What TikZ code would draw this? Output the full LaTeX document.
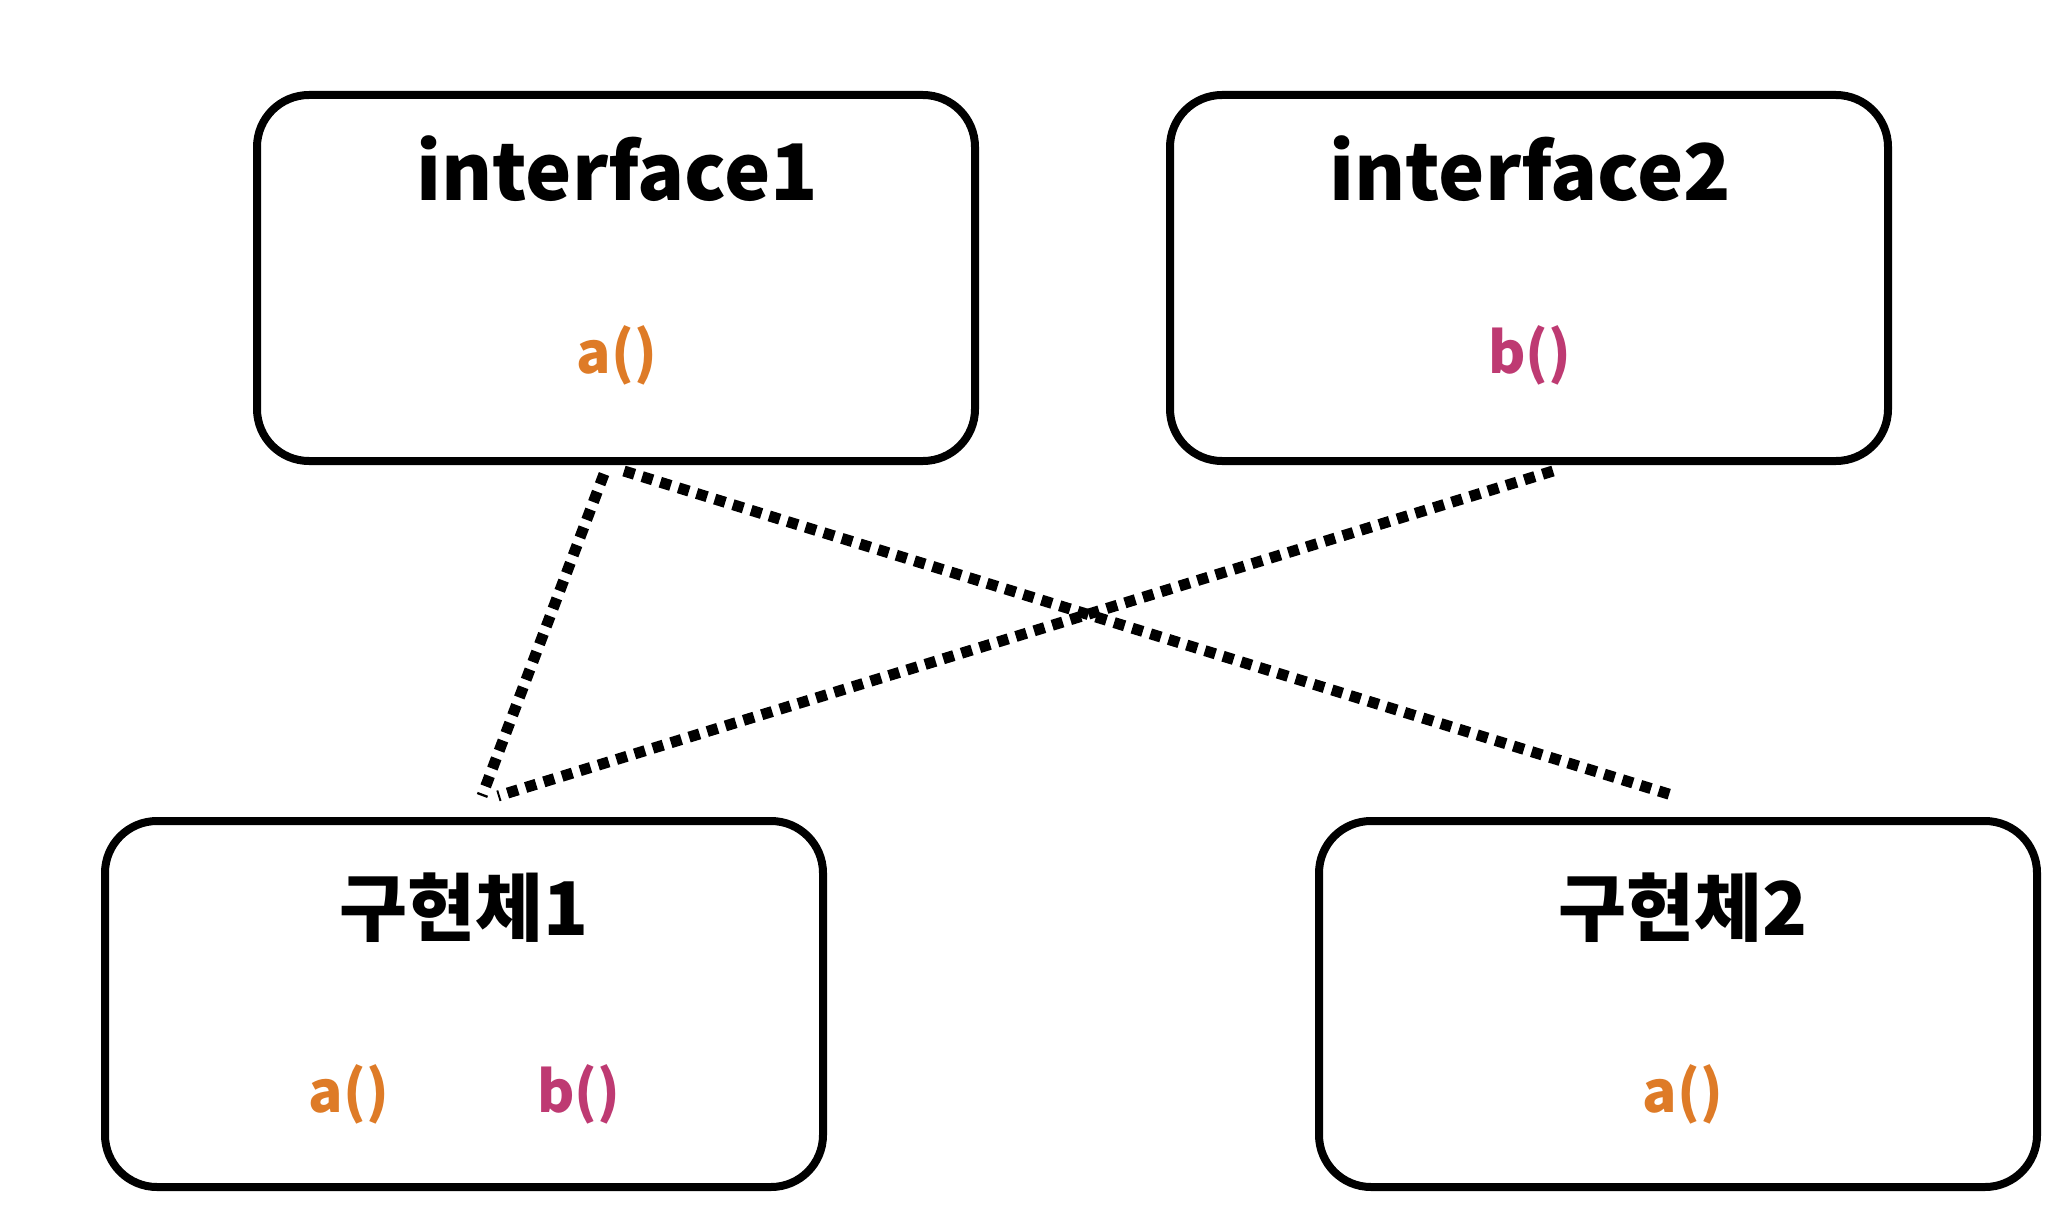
\documentclass[tikz,border=0pt]{standalone}
\usepackage{fontspec}
\setmainfont{Noto Sans CJK KR}
\definecolor{morange}{HTML}{DE7B27}
\definecolor{mpink}{HTML}{BE3A72}
\tikzset{
  box/.style={draw=black, line width=4pt, rounded corners=26pt,
    minimum width=359pt, minimum height=183pt, inner sep=0pt},
  title/.style={anchor=base, font=\fontsize{39}{46}\selectfont\bfseries},
  krtitle/.style={anchor=base, font=\fontsize{37}{44}\selectfont\bfseries},
  meth/.style={anchor=base, font=\fontsize{28.5}{34}\selectfont\bfseries},
  link/.style={draw=black, line width=5.5pt, dash pattern=on 5.5pt off 4pt}
}
\begin{document}
\begin{tikzpicture}[x=0.5pt,y=-0.5pt]
\useasboundingbox (0,0) rectangle (2070,1220);
% boxes
\node[box] (i1) at (616,278) {};
\node[box] (i2) at (1529,278) {};
\node[box] (c1) at (464,1004) {};
\node[box] (c2) at (1678,1004) {};
% titles
\node[title] (t1) at (617,200) {interface1};
\node[title] (t2) at (1530,200) {interface2};
\node[krtitle] (t3) at (464,935) {구현체1};
\node[krtitle] (t4) at (1683,935) {구현체2};
% methods
\node[meth, text=morange] (m1) at (617,373) {a()};
\node[meth, text=mpink] (m2) at (1530,373) {b()};
\node[meth, text=morange] (m3) at (349,1112) {a()};
\node[meth, text=mpink] (m4) at (579,1112) {b()};
\node[meth, text=morange] (m5) at (1683,1112) {a()};
% connector ends
\coordinate (s1) at (604,474);
\coordinate (s2) at (624,471);
\coordinate (s3) at (1553,471);
\coordinate (e1) at (482,796);
\coordinate (e2) at (1675,796);
\coordinate (e3) at (498,796);
\draw[link] (s1) -- (e1);
\draw[link] (s2) -- (e2);
\draw[link] (s3) -- (e3);
\end{tikzpicture}
\end{document}
